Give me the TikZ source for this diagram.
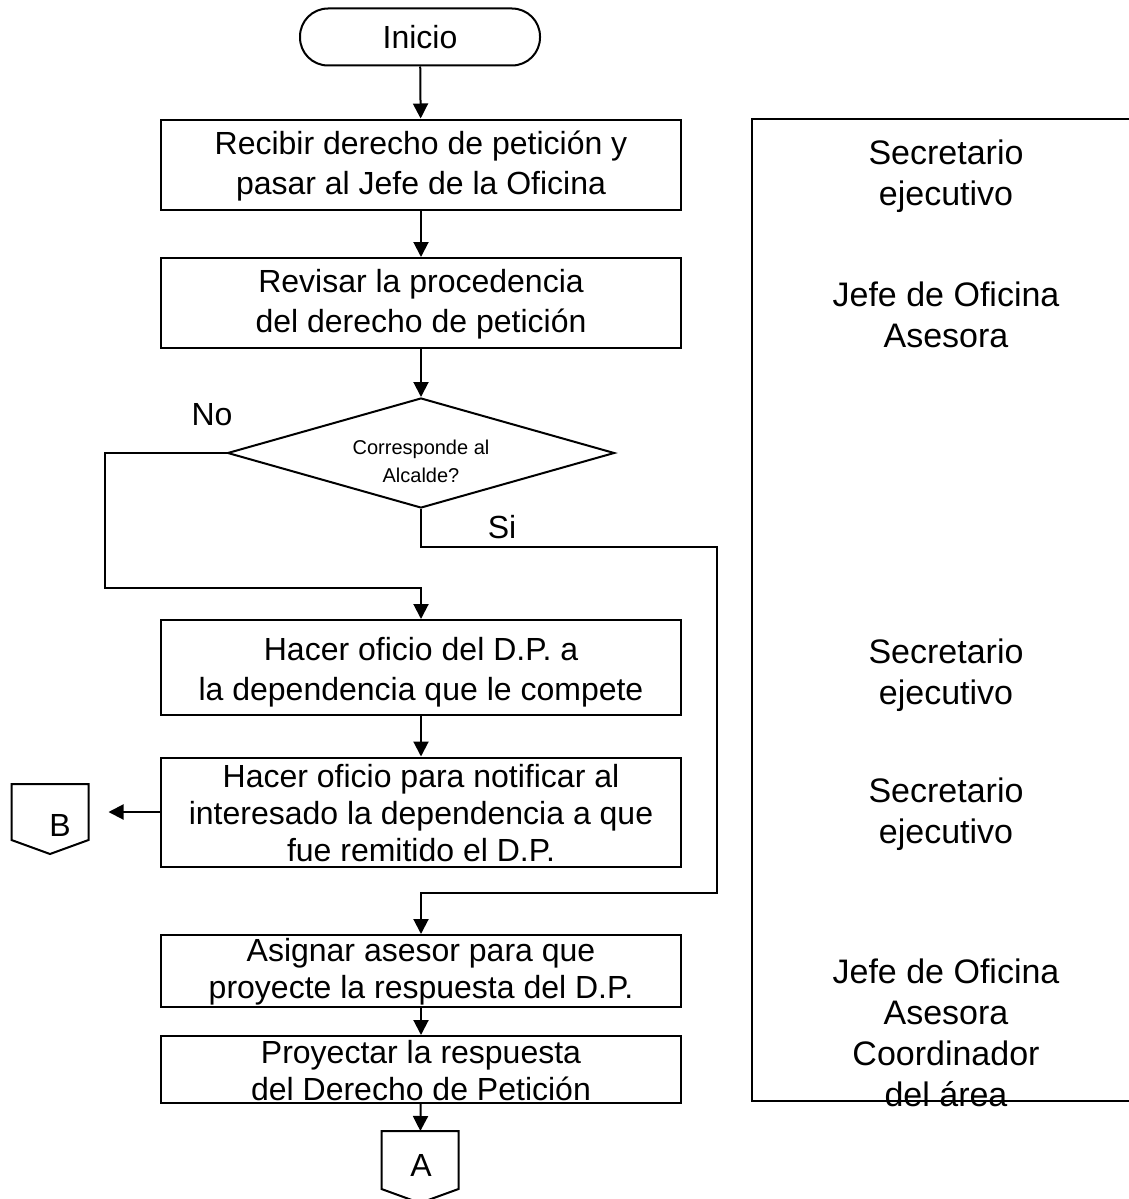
\documentclass[tikz,border=0pt]{standalone}
\usepackage{fontspec}
\setmainfont{Liberation Sans}
\usetikzlibrary{shapes.geometric,arrows.meta,calc}

\tikzstyle{terminal}=[draw, rectangle, rounded corners=28pt, minimum width=240pt, minimum height=57pt, inner sep=0pt, font=\fontsize{32}{40}\selectfont]
\tikzstyle{process}=[draw, rectangle, minimum width=520pt, inner sep=0pt]
\tikzstyle{decision}=[draw, diamond, minimum width=387pt, minimum height=110pt, inner sep=0pt]
\tikzstyle{offpage}=[rectangle, minimum width=75pt, inner sep=0pt]
\tikzstyle{txt}=[align=center, inner sep=0pt, font=\fontsize{32}{40}\selectfont]
\tikzstyle{tighttxt}=[align=center, inner sep=0pt, font=\fontsize{32}{37}\selectfont]
\tikzstyle{role}=[align=center, inner sep=0pt, font=\fontsize{34}{41}\selectfont]
\tikzstyle{small}=[align=center, inner sep=0pt, font=\fontsize{20}{28}\selectfont]
\tikzstyle{flow}=[-{Triangle[length=15pt,width=15pt]}]

\begin{document}
\begin{tikzpicture}[x=1pt, y=-1pt, line width=2pt]
  \useasboundingbox (0,0) rectangle (1128,1199);

  \node[terminal] (inicio) at (420,37) {Inicio};

  \node[process, minimum height=90pt] (recibir) at (421,164.5) {};
  \node[txt] (recibirT) at (421,166) {Recibir derecho de petición y\\pasar al Jefe de la Oficina};
  \path[flow] (inicio) edge (recibir);

  \node[process, minimum height=90pt] (revisar) at (421,303) {};
  \node[txt] (revisarT) at (421,304) {Revisar la procedencia\\del derecho de petición};
  \path[flow] (recibir) edge (revisar);

  \node[decision] (alcalde) at (421,453) {};
  \node[small] (alcaldeT) at (421,461) {Corresponde al\\Alcalde?};
  \path[flow] (revisar) edge (alcalde);
  \node[txt] (no) at (212,415) {No};
  \node[txt] (si) at (502,527) {Si};

  \node[process, minimum height=95pt] (oficio) at (421,667.5) {};
  \node[txt] (oficioT) at (421,672) {Hacer oficio del D.P. a\\la dependencia que le compete};

  \node[process, minimum height=109pt] (notificar) at (421,812) {};
  \node[tighttxt] (notificarT) at (421,813.5) {Hacer oficio para notificar al\\interesado la dependencia a que\\fue remitido el D.P.};
  \path[flow] (oficio) edge (notificar);

  \node[offpage, minimum height=68pt] (B) at (50,819) {};
  \draw (B.north west) -- (B.north east) -- ($(B.south east)+(0,-14)$) -- (B.south) -- ($(B.south west)+(0,-14)$) -- cycle;
  \node[txt] (BT) at (60,825) {B};
  \draw[flow, shorten >=20pt] (notificar.west) -- (notificar.west -| B.east);

  \node[process, minimum height=72pt] (asignar) at (421,971) {};
  \node[tighttxt] (asignarT) at (421,972) {Asignar asesor para que\\proyecte la respuesta del D.P.};

  \node[process, minimum height=67pt] (proyectar) at (421,1069.5) {};
  \node[tighttxt] (proyectarT) at (421,1071) {Proyectar la respuesta\\del Derecho de Petición};
  \path[flow] (asignar) edge (proyectar);

  \node[offpage, minimum height=70pt] (A) at (420,1167) {};
  \draw (A.north west) -- (A.north east) -- ($(A.south east)+(0,-14)$) -- (A.south) -- ($(A.south west)+(0,-14)$) -- cycle;
  \node[txt] (AT) at (421,1165) {A};
  \path[flow] (proyectar) edge (A);

  % No branch
  \coordinate (noCorner) at (105,588);
  \coordinate (noJoin) at (421,588);
  \draw[flow] (alcalde.west) -| (noCorner) -- (noJoin) -- (oficio);

  % Si branch
  \coordinate (siTurn) at (717,547);
  \coordinate (siBack) at (717,893);
  \coordinate (siJoin) at (421,893);
  \draw[flow] (alcalde.south) |- (siTurn) -- (siBack) -- (siJoin) -- (asignar);

  % responsables
  \draw (1140,119) -- (752,119) -- (752,1101) -- (1140,1101);
  \node[role] (r1) at (946,176) {Secretario\\ejecutivo};
  \node[role] (r2) at (946,315) {Jefe de Oficina\\Asesora};
  \node[role] (r3) at (946,675) {Secretario\\ejecutivo};
  \node[role] (r4) at (946,814) {Secretario\\ejecutivo};
  \node[role] (r5) at (946,1033) {Jefe de Oficina\\Asesora\\Coordinador\\del área};
\end{tikzpicture}
\end{document}
